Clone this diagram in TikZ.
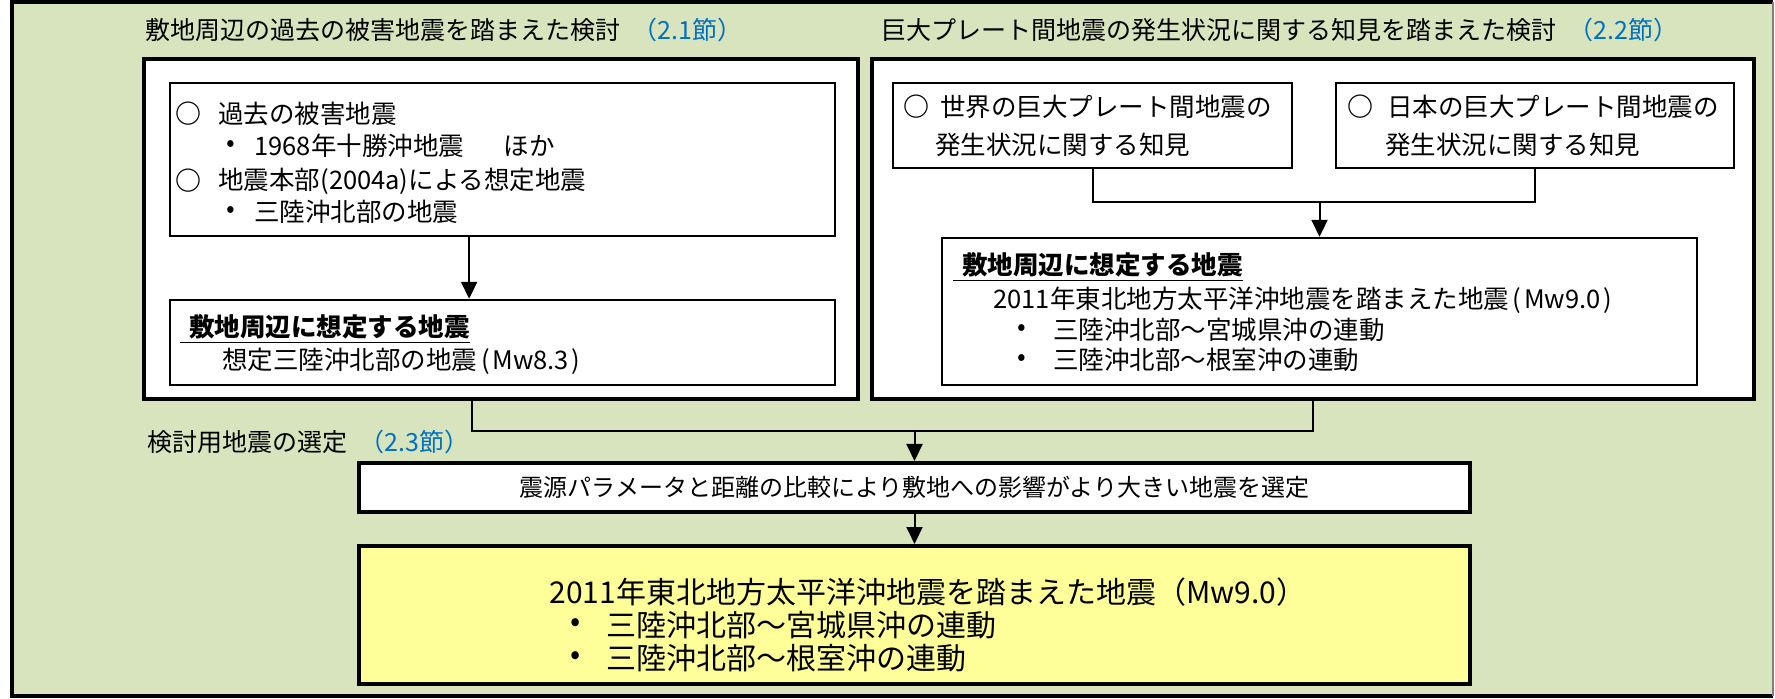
\documentclass[tikz,border=0pt]{standalone}
\usepackage{fontspec}
\setmainfont{Noto Sans CJK JP}
\usetikzlibrary{arrows.meta,calc}
\definecolor{bggreen}{HTML}{D7E4BD}
\definecolor{secblue}{HTML}{0070C0}
\definecolor{ylw}{HTML}{FFFF99}
\begin{document}
\begin{tikzpicture}[x=0.5pt,y=-0.5pt,
  bigbox/.style={draw=black,line width=2pt,fill=white,inner sep=0pt},
  inbox/.style={draw=black,line width=1.2pt,fill=white,inner sep=0pt},
  conn/.style={draw=black,line width=1pt},
  arr/.style={conn,-{Triangle[width=8pt,length=8.5pt]}},
  txt/.style={inner sep=0pt,anchor=west,font=\fontsize{12.75}{15}\selectfont},
  ttl/.style={inner sep=0pt,anchor=west,font=\fontsize{12.5}{15}\selectfont},
  bigtxt/.style={inner sep=0pt,anchor=west,font=\fontsize{15}{18}\selectfont},
  circ/.style={inner sep=0pt,anchor=west,font=\fontsize{13}{14}\selectfont\bfseries},
]
\useasboundingbox (0,0) rectangle (1775,699);
% outer frame
\fill[bggreen] (12,2) rectangle (1773,696);
\draw[black,line width=2pt] (1773,2) -- (12,2) -- (12,696) -- (1773,696);
\draw[gray,line width=0.6pt] (1773,2) -- (1773,696);

% titles
\node[ttl] (t1) at (145,30) {敷地周辺の過去の被害地震を踏まえた検討\hspace{6pt}{\color{secblue}（2.1節）}};
\node[ttl] (t2) at (881,30) {巨大プレート間地震の発生状況に関する知見を踏まえた検討\hspace{6pt}{\color{secblue}（2.2節）}};
\node[ttl] (t3) at (147,442) {検討用地震の選定\hspace{6pt}{\color{secblue}（2.3節）}};

% left block
\node[bigbox,minimum width=357pt,minimum height=170pt] (L) at (501,229) {};
\node[inbox,minimum width=332.5pt,minimum height=76.5pt] (L1) at (502.5,159.5) {};
\node[inbox,minimum width=332.5pt,minimum height=42.5pt] (L2) at (502.5,342.5) {};

\node[circ] (c1) at (175,114) {○};
\node[txt] (l1a) at (218,114) {過去の被害地震};
\node[txt] (b1) at (226,146) {•};
\node[txt] (l1b) at (254,146) {1968年十勝沖地震\hspace{20pt}ほか};
\node[circ] (c2) at (175,181) {○};
\node[txt] (l1c) at (218,181) {地震本部(2004a)による想定地震};
\node[txt] (b2) at (226,212) {•};
\node[txt] (l1d) at (254,212) {三陸沖北部の地震};

\node[txt] (l2a) at (180,329) {\bfseries\underline{\hspace{4.5pt}敷地周辺に想定する地震}};
\node[txt] (l2b) at (222,361) {想定三陸沖北部の地震\hspace{0.15em}(\hspace{0.1em}Mw8.3\hspace{0.1em})};

\draw[arr] ($(L1.south west)!0.45!(L1.south east)$) coordinate (la) -- (la |- L2.north);

% right block
\node[bigbox,minimum width=441pt,minimum height=170pt] (R) at (1313,229) {};
\node[inbox,minimum width=199.5pt,minimum height=42.5pt] (RA) at (1092.5,125.5) {};
\node[inbox,minimum width=199pt,minimum height=42.5pt] (RB) at (1535,125.5) {};
\node[inbox,minimum width=377.5pt,minimum height=73.5pt] (RC) at (1319.5,311.5) {};

\node[circ] (c3) at (903,107) {○};
\node[txt] (ra1) at (940,107) {世界の巨大プレート間地震の};
\node[txt] (ra2) at (935,145) {発生状況に関する知見};
\node[circ] (c4) at (1347,107) {○};
\node[txt] (rb1) at (1387,107) {日本の巨大プレート間地震の};
\node[txt] (rb2) at (1385,145) {発生状況に関する知見};

\node[txt] (rc1) at (953,267) {\bfseries\underline{\hspace{4.5pt}敷地周辺に想定する地震}};
\node[txt] (rc2) at (993,300) {2011年東北地方太平洋沖地震を踏まえた地震\hspace{0.15em}(\hspace{0.1em}Mw9.0\hspace{0.1em})};
\node[txt] (b3) at (1017,330) {•};
\node[txt] (rc3) at (1053,330) {三陸沖北部～宮城県沖の連動};
\node[txt] (b4) at (1017,360) {•};
\node[txt] (rc4) at (1053,360) {三陸沖北部～根室沖の連動};

\coordinate (jr) at (0,202);
\draw[conn] (RA.south) -- (RA.south |- jr) -- (RB.south |- jr) -- (RB.south);
\draw[arr] (RC.north |- jr) -- (RC.north);

% selection
\node[bigbox,minimum width=555.5pt,minimum height=24.5pt,font=\fontsize{12}{14}\selectfont] (bar) at (914.5,487.5) {震源パラメータと距離の比較により敷地への影響がより大きい地震を選定};
\node[bigbox,fill=ylw,minimum width=555.5pt,minimum height=69pt] (Y) at (914.5,615) {};
\node[bigtxt] (y1) at (549,592) {2011年東北地方太平洋沖地震を踏まえた地震（Mw9.0）};
\node[bigtxt] (yb1) at (570,625) {•};
\node[bigtxt] (y2) at (606,625) {三陸沖北部～宮城県沖の連動};
\node[bigtxt] (yb2) at (570,658) {•};
\node[bigtxt] (y3) at (606,658) {三陸沖北部～根室沖の連動};

\coordinate (jm) at (0,431);
\draw[conn] ($(L.south west)!0.459!(L.south east)$) coordinate (lb) -- (lb |- jm) -- (R.south |- jm) -- (R.south);
\draw[arr] (bar.north |- jm) -- (bar.north);
\draw[arr] (bar.south) -- (Y.north);
\end{tikzpicture}
\end{document}
